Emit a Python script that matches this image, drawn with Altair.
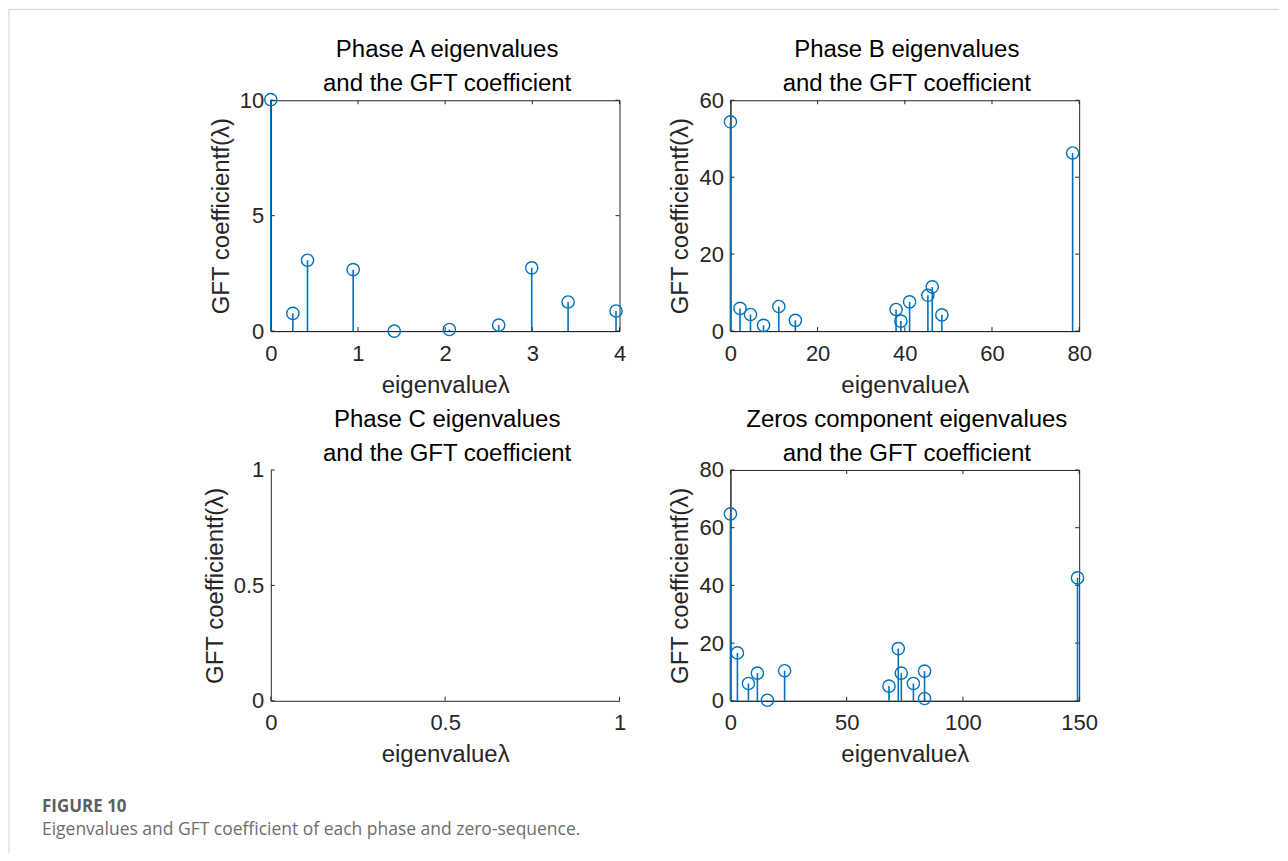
import altair as alt
import pandas as pd

# ---------------- data ----------------
A_x = [0.0, 0.253, 0.421, 0.945, 1.416, 2.048, 2.614, 2.993, 3.41, 3.96]
A_y = [10.03, 0.765, 3.07, 2.66, 0.0, 0.07, 0.26, 2.74, 1.26, 0.87]

B_x = [0.0, 2.2, 4.6, 7.6, 11.1, 14.9, 38.0, 39.1, 41.1, 45.3, 46.3, 48.5, 78.5]
B_y = [54.4, 5.9, 4.3, 1.5, 6.4, 2.8, 5.6, 2.6, 7.6, 9.3, 11.5, 4.2, 46.3]

Z_x = [0.0, 3.0, 7.75, 11.6, 15.9, 23.3, 68.2, 72.2, 73.5, 78.7, 83.5, 83.5, 149.3]
Z_y = [64.8, 16.6, 6.0, 9.6, 0.2, 10.4, 5.1, 18.1, 9.6, 6.0, 10.3, 0.8, 42.6]

A_xticks = [0, 1, 2, 3, 4]
A_yticks = [0, 5, 10]
B_xticks = [0, 20, 40, 60, 80]
B_yticks = [0, 20, 40, 60]
C_xticks = [0, 0.5, 1]
C_yticks = [0, 0.5, 1]
Z_xticks = [0, 50, 100, 150]
Z_yticks = [0, 20, 40, 60, 80]

titles = {
    "A": ["Phase A eigenvalues", "and the GFT coefficient"],
    "B": ["Phase B eigenvalues", "and the GFT coefficient"],
    "C": ["Phase C eigenvalues", "and the GFT coefficient"],
    "Z": ["Zeros component eigenvalues", "and the GFT coefficient"],
}
x_title = "eigenvalueλ"
y_title = "GFT coefficientf(λ)"
caption_head = ["FIGURE 10"]
caption_body = ["Eigenvalues and GFT coefficient of each phase and zero-sequence."]

# ---------------- style ----------------
W, H = 349, 231
BLUE = "#0072BD"
AX = "#262626"
FONT = "Liberation Sans"
CAP_FONT = "Open Sans"
TL = 4  # inward tick length


def panel(key, xv, yv, xticks, yticks, box=True, extras=None):
    xs = alt.Scale(domain=[xticks[0], xticks[-1]], nice=False, zero=False)
    ys = alt.Scale(domain=[yticks[0], yticks[-1]], nice=False, zero=False)
    xaxis = alt.Axis(values=xticks, format=".4~g", title=x_title, grid=False,
                     ticks=False, tickSize=0, labelPadding=12, titlePadding=9,
                     labelFlush=False, labelOverlap=False)
    yaxis = alt.Axis(values=yticks, format=".4~g", title=y_title, grid=False,
                     ticks=False, tickSize=0, labelPadding=7, titlePadding=6,
                     labelFlush=False, labelOverlap=False)
    X = lambda f: alt.X(f, scale=xs, axis=xaxis)
    Y = lambda f: alt.Y(f, scale=ys, axis=yaxis)

    xt = pd.DataFrame({"t": xticks})
    yt = pd.DataFrame({"t": yticks})
    layers = []

    tick_style = dict(color=AX, strokeWidth=1)
    layers.append(alt.Chart(xt).mark_rule(**tick_style).encode(
        x=X("t:Q"), y=alt.value(H), y2=alt.value(H - TL)))
    layers.append(alt.Chart(yt).mark_rule(**tick_style).encode(
        y=Y("t:Q"), x=alt.value(0), x2=alt.value(TL)))
    if box:
        layers.append(alt.Chart(xt).mark_rule(**tick_style).encode(
            x=X("t:Q"), y=alt.value(0), y2=alt.value(TL)))
        layers.append(alt.Chart(yt).mark_rule(**tick_style).encode(
            y=Y("t:Q"), x=alt.value(W - TL), x2=alt.value(W)))

    if xv:
        pts = pd.DataFrame({"x": xv, "y": yv})
        layers.append(alt.Chart(pts).mark_rule(color=BLUE, strokeWidth=1.6).encode(
            x=X("x:Q"), y=Y("y:Q"), y2=alt.datum(0)))
        layers.append(alt.Chart(pts).mark_point(
            shape="circle", filled=False, size=150, strokeWidth=1.4,
            color=BLUE, opacity=1).encode(x=X("x:Q"), y=Y("y:Q")))

    # two-line panel title as text marks
    for i, line in enumerate(titles[key]):
        tdf = pd.DataFrame({"t": [line]})
        layers.append(alt.Chart(tdf).mark_text(
            align="center", baseline="alphabetic", font=FONT, fontSize=24,
            color="#000000").encode(
            x=alt.value(W / 2 + 2), y=alt.value(-43 + 34 * i), text="t:N"))

    if extras:
        layers.extend(extras)

    ch = alt.layer(*layers).properties(
        width=W, height=H,
        view=alt.ViewBackground(stroke=AX if box else "transparent",
                                strokeWidth=1),
    )
    return ch


# page decorations (frame lines and caption), placed relative to panel A
frame_df = pd.DataFrame({"k": [0]})
head_df = pd.DataFrame({"t": caption_head})
body_df = pd.DataFrame({"t": caption_body})
extras = [
    alt.Chart(frame_df).mark_rule(color="#cfcfcf", strokeWidth=1).encode(
        x=alt.value(-262), y=alt.value(-91), y2=alt.value(753)),
    alt.Chart(frame_df).mark_rule(color="#cfcfcf", strokeWidth=1).encode(
        x=alt.value(-262), x2=alt.value(1009), y=alt.value(-91)),
    alt.Chart(head_df).mark_text(align="left", baseline="alphabetic", font=CAP_FONT,
                                 fontSize=17, fontWeight="bold", color="#5e5e5e").encode(
        x=alt.value(-229), y=alt.value(712), text="t:N"),
    alt.Chart(body_df).mark_text(align="left", baseline="alphabetic", font=CAP_FONT,
                                 fontSize=17.5, color="#6e6e6e").encode(
        x=alt.value(-229), y=alt.value(735), text="t:N"),
]

pA = panel("A", A_x, A_y, A_xticks, A_yticks, box=True, extras=extras)
pB = panel("B", B_x, B_y, B_xticks, B_yticks, box=True)
pC = panel("C", [], [], C_xticks, C_yticks, box=False)
pZ = panel("Z", Z_x, Z_y, Z_xticks, Z_yticks, box=True)

chart = alt.concat(pA, pB, pC, pZ, columns=2, bounds="flush",
                   spacing={"row": 139, "column": 111}).properties(
    padding=0, background="white"
).configure(font=FONT).configure_axis(
    domainColor=AX, domainWidth=1, labelColor=AX, titleColor=AX,
    labelFont=FONT, titleFont=FONT, labelFontSize=22, titleFontSize=24,
    titleFontWeight="normal",
)

chart.save("out.html", embed_options={"renderer": "svg", "actions": False})
